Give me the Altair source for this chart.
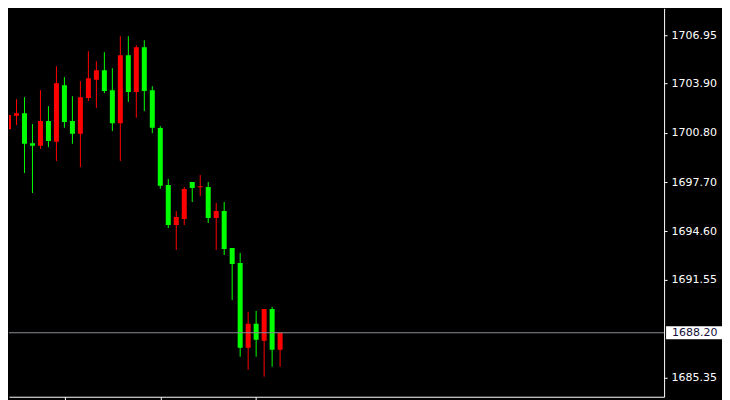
import altair as alt
import pandas as pd

# Candle data (index, OHLC)
idx = list(range(36))
opens = [1702.37, 1701.03, 1701.87, 1702.04, 1700.15, 1699.98, 1701.54, 1700.24, 1703.80, 1701.54,
         1700.74, 1703.00, 1704.14, 1704.75, 1703.49, 1701.41, 1705.69, 1703.38, 1706.19, 1703.49,
         1701.10, 1697.51, 1694.99, 1695.37, 1697.70, 1697.37, 1697.38, 1695.43, 1695.87, 1693.54,
         1692.60, 1687.25, 1688.77, 1687.69, 1689.70, 1687.13]
highs = [1702.50, 1702.75, 1702.92, 1703.05, 1701.35, 1703.49, 1702.48, 1705.00, 1704.31, 1703.11,
         1704.06, 1705.94, 1705.31, 1705.88, 1704.87, 1706.89, 1706.89, 1706.32, 1706.64, 1703.74,
         1701.22, 1697.89, 1695.87, 1697.38, 1697.70, 1698.14, 1697.70, 1696.38, 1696.44, 1693.54,
         1693.23, 1689.52, 1689.58, 1689.70, 1689.83, 1688.20]
lows = [1701.90, 1700.40, 1701.29, 1698.27, 1697.01, 1699.78, 1699.90, 1699.02, 1701.12, 1700.11,
        1698.64, 1702.80, 1702.37, 1703.30, 1700.91, 1699.02, 1702.75, 1701.75, 1702.17, 1700.78,
        1697.28, 1694.80, 1693.42, 1694.99, 1696.44, 1696.82, 1695.12, 1693.42, 1693.10, 1690.27,
        1686.69, 1685.87, 1686.69, 1685.43, 1686.06, 1686.06]
closes = [1701.99, 1701.92, 1702.04, 1700.11, 1699.98, 1701.54, 1700.28, 1703.93, 1701.49, 1700.74,
          1703.05, 1704.24, 1704.75, 1703.43, 1701.41, 1705.69, 1703.38, 1706.19, 1703.43, 1701.12,
          1697.47, 1694.99, 1695.50, 1697.26, 1697.32, 1697.43, 1695.43, 1695.87, 1693.48, 1692.54,
          1687.25, 1688.77, 1687.76, 1689.70, 1687.13, 1688.20]

axis_ticks = [1706.95, 1703.90, 1700.80, 1697.70, 1694.60, 1691.55, 1685.35]
time_ticks = [8, 20, 32]
last_price = 1688.20

df = pd.DataFrame({"i": idx, "open": opens, "high": highs, "low": lows, "close": closes})
df["dir"] = ["up" if c >= o else "down" for o, c in zip(opens, closes)]

W, H = 656, 389
xscale = alt.Scale(domain=[1.0625, 83.0625], nice=False, zero=False, padding=0)
yscale = alt.Scale(domain=[1684.168, 1708.649], nice=False, zero=False, padding=0)
color = alt.Color("dir:N", scale=alt.Scale(domain=["up", "down"], range=["#ff0000", "#00ff00"]), legend=None)

xaxis = alt.Axis(values=time_ticks, labels=False, title=None, grid=False,
                 domainColor="white", tickColor="white", tickSize=4, domainWidth=1)
yaxis = alt.Axis(orient="right", values=axis_ticks, format=".2f", title=None, grid=False,
                 domainColor="white", tickColor="white", tickSize=3, labelPadding=4,
                 labelColor="white", labelFont="DejaVu Sans", labelFontSize=11,
                 labelOverlap=False, labelBound=False, labelFlush=False)

base = alt.Chart(df)

wicks = base.mark_rule(strokeWidth=1, clip=True).encode(
    x=alt.X("i:Q", scale=xscale, axis=xaxis),
    y=alt.Y("low:Q", scale=yscale, axis=yaxis),
    y2="high:Q",
    color=color,
)

bodies = base.mark_bar(size=5, clip=True).encode(
    x=alt.X("i:Q", scale=xscale, axis=xaxis),
    y=alt.Y("open:Q", scale=yscale, axis=yaxis),
    y2="close:Q",
    color=color,
)

price_df = pd.DataFrame({"p": [last_price], "label": [f"{last_price:.2f}"]})
pbase = alt.Chart(price_df)

price_line = pbase.mark_rule(color="#8c8c96", strokeWidth=1).encode(
    y=alt.Y("p:Q", scale=yscale, axis=yaxis)
)

price_box = pbase.mark_tick(orient="horizontal", color="white", size=56, thickness=13, opacity=1).encode(
    x=alt.value(686),
    y=alt.Y("p:Q", scale=yscale, axis=yaxis),
)

price_text = pbase.mark_text(align="left", baseline="middle", font="DejaVu Sans", fontSize=11,
                             color="#14103c").encode(
    x=alt.value(664),
    y=alt.Y("p:Q", scale=yscale, axis=yaxis),
    text="label:N",
)

chart = alt.layer(wicks, bodies, price_line, price_box, price_text).properties(
    width=W, height=H, background="black",
    padding={"left": 0, "top": 0, "right": 0, "bottom": 10}
).configure_view(strokeWidth=0)

chart.save("out.html", embed_options={"renderer": "svg", "actions": False})
